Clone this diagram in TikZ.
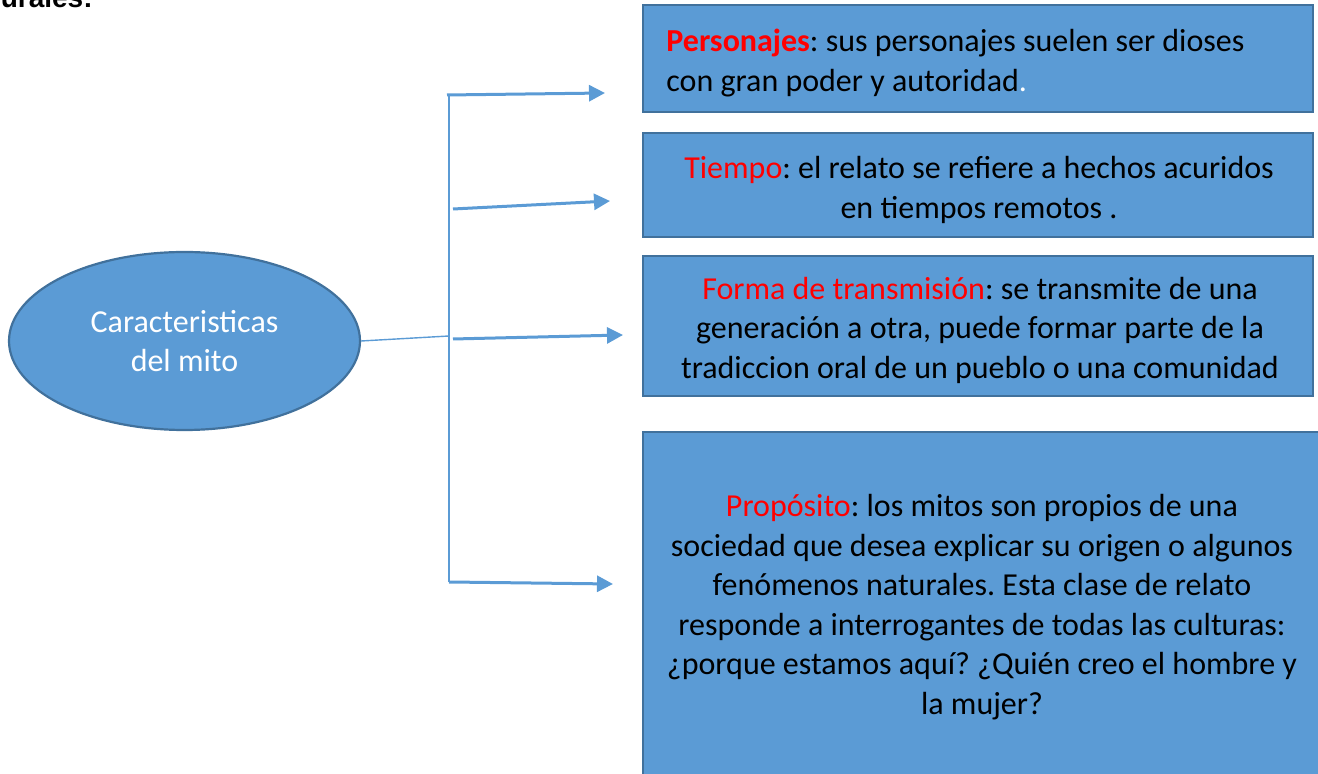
\documentclass[tikz,border=0pt]{standalone}
\usepackage{fontspec}
\setmainfont{Carlito}
\newfontfamily\headfont{Liberation Sans}
\usepackage{tikz}
\usetikzlibrary{arrows.meta,positioning,calc,shapes.geometric}
\definecolor{mitoblue}{HTML}{5B9BD5}
\definecolor{mitoedge}{HTML}{41719C}
\definecolor{mitored}{HTML}{FF0000}
\frenchspacing

\tikzset{
  card/.style={draw=mitoedge, line width=1.1pt, fill=mitoblue, rectangle, inner sep=0pt},
  cardtext/.style={font=\fontsize{16}{19.75}\selectfont, align=center, inner sep=0pt},
  link/.style={draw=mitoblue, line width=0.7pt},
  branch/.style={draw=mitoblue, line width=1.5pt, -{Triangle[length=8pt,width=8pt]}},
}

\begin{document}
\begin{tikzpicture}[x=0.5pt, y=-0.5pt]

% Frame
\useasboundingbox (0,0) rectangle (1318,774);
\clip (0,0) rectangle (1318,774);

% Heading (cut off)
\node[font=\headfont\bfseries\fontsize{14}{14}\selectfont, anchor=base east, inner sep=0pt] (heading) at (93,8) {urales:};

% Ellipse
\node[ellipse, draw=mitoedge, line width=1.1pt, fill=mitoblue, minimum width=175.5pt, minimum height=89pt,
      text=white, cardtext] (mito) at (184.5,341) {Caracteristicas\\del mito};

% Boxes
\node[card, minimum width=335pt, minimum height=53.5pt] (personajes) at (978,58.5) {};
\node[card, minimum width=335pt, minimum height=52pt] (tiempo) at (978,185) {};
\node[card, minimum width=335pt, minimum height=70pt] (forma) at (978,326) {};
\node[card, minimum width=339.5pt, minimum height=174pt] (proposito) at (982.5,606) {};

% Texts
\node[cardtext, align=left, anchor=west] (personajesText) at (666,63)
  {\textbf{\textcolor{mitored}{Personajes}}: sus personajes suelen ser dioses\\con gran poder y autoridad\textcolor{white}{.}};
\node[cardtext] (tiempoText) at (979,190)
  {\textcolor{mitored}{Tiempo}: el relato se refiere a hechos acuridos\\en tiempos remotos .};
\node[cardtext] (formaText) at (980,330)
  {\textcolor{mitored}{Forma de transmisión}: se transmite de una\\generación a otra, puede formar parte de la\\tradiccion oral de un pueblo o una comunidad};
\node[cardtext] (propositoText) at (982,607)
  {\textcolor{mitored}{Propósito}: los mitos son propios de una\\sociedad que desea explicar su origen o algunos\\fenómenos naturales. Esta clase de relato\\responde a interrogantes de todas las culturas:\\¿porque estamos aquí? ¿Quién creo el hombre y\\la mujer?};

% Connectors
\coordinate (hub) at (449,336);
\coordinate (top) at (449,95);
\coordinate (bot) at (449,582);
\draw[link] (mito.east) -- (hub);
\draw[link] (top) -- (bot);

\coordinate (tipA) at (605,93);
\coordinate (tipB) at (610,201);
\coordinate (tipC) at (623,335);
\coordinate (tipD) at (613,584);
\draw[branch] (447,95) -- (tipA);
\draw[branch] (453,209) -- (tipB);
\draw[branch] (453,339) -- (tipC);
\draw[branch] (bot) -- (tipD);

\end{tikzpicture}
\end{document}
